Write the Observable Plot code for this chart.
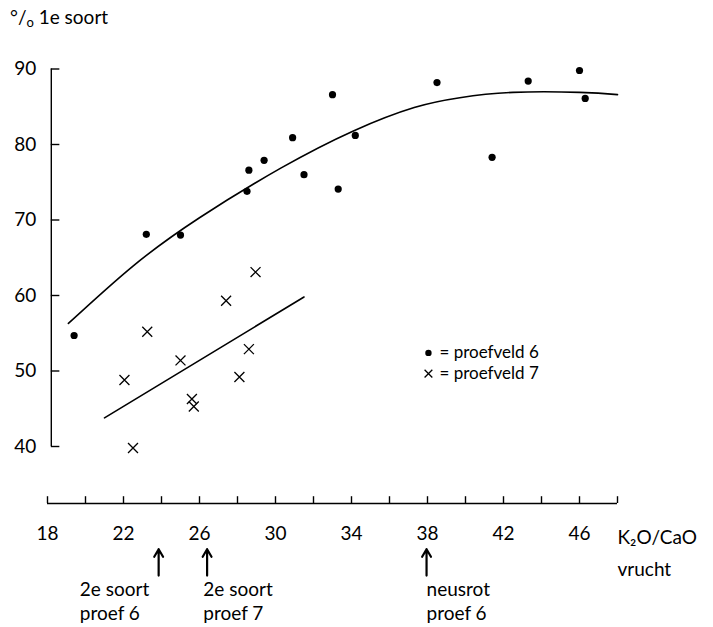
<!DOCTYPE html>
<html><head><meta charset="utf-8">
<script src="https://cdn.jsdelivr.net/npm/d3@7"></script>
<script src="https://cdn.jsdelivr.net/npm/@observablehq/plot@0.6"></script>
<style>
body{margin:0;background:#fff;font-family:Lato,"Open Sans",sans-serif;}
#title{height:34px;line-height:34px;padding-left:10px;font-size:19px;color:#000;}
#chart svg{overflow:visible}
</style></head><body>
<div id="title">°/<span style="font-size:13px;position:relative;top:3px">o</span> 1e soort</div>
<div id="chart"></div>
<script>
// proefveld 6 (dots)
const p6X = [19.4, 23.2, 25.0, 28.5, 28.6, 29.4, 30.9, 31.5, 33.0, 33.3, 34.2, 38.5, 41.4, 43.3, 46.0, 46.3];
const p6Y = [54.7, 68.1, 68.0, 73.8, 76.6, 77.9, 80.9, 76.0, 86.6, 74.1, 81.2, 88.2, 78.3, 88.4, 89.8, 86.1];
// proefveld 7 (crosses)
const p7X = [22.05, 22.5, 23.25, 25.0, 25.6, 25.7, 27.4, 28.1, 28.6, 28.95];
const p7Y = [48.8, 39.8, 55.2, 51.4, 46.3, 45.3, 59.3, 49.2, 52.9, 63.1];
// hand-drawn curve through proefveld 6
const curve6X = [19.1, 22.5, 26.0, 30.3, 34.1, 37.3, 39.7, 42.5, 46.0, 48.0];
const curve6Y = [56.3, 63.9, 70.3, 76.9, 81.8, 84.9, 86.2, 86.9, 86.9, 86.6];
// straight line through proefveld 7
const line7X = [21.0, 31.5];
const line7Y = [43.8, 59.8];
// axes
const xTicks = [18, 20, 22, 24, 26, 28, 30, 32, 34, 36, 38, 40, 42, 44, 46, 48];
const xLabels = [18, 22, 26, 30, 34, 38, 42, 46];
const yLabels = [40, 50, 60, 70, 80, 90];
const xTitle = "K₂O/CaO\nvrucht";
// annotations
const arrowX = [23.85, 26.4, 37.95];
const annoTextX = [19.7, 26.2, 37.95];
const annoText = ["2e soort\nproef 6", "2e soort\nproef 7", "neusrot\nproef 6"];
// legend
const legendLabels = ["= proefveld 6", "= proefveld 7"];

const yAxisAt = 18.2, xAxisAt = 32.45;
const legendX = 38.05, legendY = [52.4, 49.65];
const arrowY1 = 22.9, arrowY2 = 26.4;

const p6 = p6X.map((x, i) => ({x, y: p6Y[i]}));
const p7 = p7X.map((x, i) => ({x, y: p7Y[i]}));
const c6 = curve6X.map((x, i) => ({x, y: curve6Y[i]}));
const l7 = line7X.map((x, i) => ({x, y: line7Y[i]}));

const fs = 19;
const chart = Plot.plot({
  width: 713, height: 593,
  marginLeft: 47, marginRight: 96, marginTop: 34.5, marginBottom: 181,
  style: {fontFamily: "Lato, 'Open Sans', sans-serif", fontSize: fs + "px", color: "#000", background: "#fff"},
  x: {domain: [18, 48], axis: null},
  y: {domain: [40, 90], axis: null},
  marks: [
    // y axis
    Plot.ruleX([yAxisAt], {y1: 40, y2: 90, stroke: "black", strokeWidth: 1.4}),
    Plot.ruleY(yLabels, {y: d => d, x1: yAxisAt, x2: yAxisAt + 0.45, stroke: "black", strokeWidth: 1.4}),
    Plot.text(yLabels, {x: yAxisAt, y: d => d, text: d => String(d), dx: -15, textAnchor: "end", fontSize: fs}),
    // x axis
    Plot.ruleY([xAxisAt], {x1: 18, x2: 48, stroke: "black", strokeWidth: 1.4}),
    Plot.ruleX(xTicks, {x: d => d, y1: xAxisAt, y2: xAxisAt + 0.9, stroke: "black", strokeWidth: 1.4}),
    Plot.text(xLabels, {x: d => d, y: xAxisAt, text: d => String(d), dy: 30, fontSize: fs}),
    Plot.text([xTitle], {x: 48, y: xAxisAt, text: d => d, dy: 46, textAnchor: "start", lineHeight: 1.68, fontSize: fs}),
    // annotations
    Plot.arrow(arrowX, {x1: d => d, x2: d => d, y1: arrowY1, y2: arrowY2, stroke: "black", strokeWidth: 2.2, headLength: 7, headAngle: 60}),
    Plot.text(annoText, {x: (d, i) => annoTextX[i], y: xAxisAt, text: d => d, dy: 97, textAnchor: "start", lineHeight: 1.27, fontSize: fs}),
    // lines
    Plot.line(c6, {x: "x", y: "y", curve: "natural", stroke: "black", strokeWidth: 1.6}),
    Plot.line(l7, {x: "x", y: "y", stroke: "black", strokeWidth: 1.6}),
    // points
    Plot.dot(p6, {x: "x", y: "y", r: 3.6, fill: "black", stroke: "none"}),
    Plot.dot(p7, {x: "x", y: "y", symbol: "times", r: 4.6, stroke: "black", strokeWidth: 1.3}),
    // legend
    Plot.dot([0], {x: legendX, y: legendY[0], r: 3.2, fill: "black", stroke: "none"}),
    Plot.dot([0], {x: legendX, y: legendY[1], symbol: "times", r: 3.6, stroke: "black", strokeWidth: 1.3}),
    Plot.text(legendLabels, {x: legendX, y: (d, i) => legendY[i], text: d => d, dx: 11, textAnchor: "start", fontSize: 17})
  ]
});
document.getElementById("chart").appendChild(chart);
</script>
</body></html>
